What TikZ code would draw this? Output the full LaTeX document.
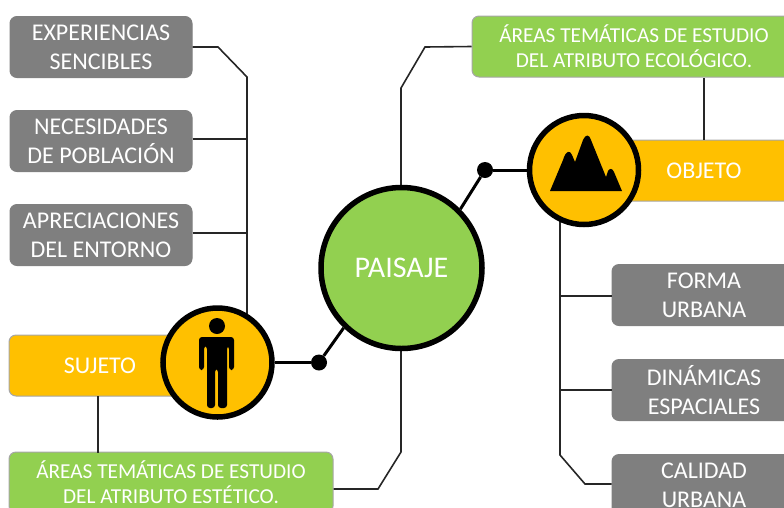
\documentclass[tikz,border=0pt]{standalone}
\usepackage{fontspec}
\setmainfont{Carlito}
\usetikzlibrary{positioning}
\definecolor{greybox}{RGB}{127, 127, 127}
\definecolor{gold}{RGB}{255, 192, 0}
\definecolor{leaf}{RGB}{146, 208, 80}
\tikzset{
  box/.style = {rectangle, rounded corners=7pt, draw=black!35, line width=1pt, text=white, align=center, font=\fontsize{24}{29}\selectfont, inner sep=0pt, minimum height=61pt},
  grey/.style = {box, draw=greybox, fill=greybox, minimum width=182pt},
  greyright/.style = {box, draw=greybox, fill=greybox, minimum width=184pt},
  greenbox/.style = {box, fill=leaf, minimum width=324pt, font=\fontsize{21.3}{25}\selectfont},
  goldbox/.style = {box, fill=gold},
  hub/.style = {circle, draw=black, line width=5.5pt, fill=gold, inner sep=0pt, minimum size=109pt},
  dot/.style = {circle, fill=black, inner sep=0pt, minimum size=16pt},
  tedge/.style = {draw=black!85, line width=1.6pt},
  hubedge/.style = {draw=black, line width=3pt},
}
\begin{document}
\begin{tikzpicture}[x=1pt, y=-1pt]
\useasboundingbox (0,0) rectangle (784,507);

% left boxes
\node[grey] (exper) at (101,47) {EXPERIENCIAS\\SENCIBLES};
\node[grey, below=32pt of exper] (neces) {NECESIDADES\\DE POBLACIÓN};
\node[grey, below=32pt of neces] (aprec) {APRECIACIONES\\DEL ENTORNO};
\node[goldbox, minimum width=182pt] (sujeto) at (100,365.5) {SUJETO};
\node[greenbox] (estet) at (171,482.5) {ÁREAS TEMÁTICAS DE ESTUDIO\\DEL ATRIBUTO ESTÉTICO.};

% right boxes
\node[greenbox] (ecolo) at (634,46.5) {ÁREAS TEMÁTICAS DE ESTUDIO\\DEL ATRIBUTO ECOLÓGICO.};
\node[goldbox, minimum width=184pt] (objeto) at (704,170.5) {OBJETO};
\node[greyright] (forma) at (704,295) {FORMA\\URBANA};
\node[greyright, below=33pt of forma] (dinam) {DINÁMICAS\\ESPACIALES};
\node[greyright, below=33pt of dinam] (calid) {CALIDAD\\URBANA};

% corners of the connectors
\coordinate (trunkL) at (247,77);
\coordinate (trunkR) at (560,455);

%edges
\path[tedge] (exper.east |- 0,47) -- (218,47) -- (trunkL) -- (247,320);
\path[tedge] (neces.east |- 0,139) -- (trunkL |- 0,139);
\path[tedge] (aprec.east |- 0,233) -- (trunkL |- 0,233);
\path[tedge] (98,396) -- (98,453);
\path[tedge] (704,78) -- (704,140);
\path[tedge] (estet.east |- 0,489) -- (378,489) -- (401,452) -- (401,340);
\path[tedge] (ecolo.west) -- (425,47) -- (401,88) -- (401,200);
\path[tedge] (560,215) -- (trunkR) -- (585,484) -- (calid.west |- 0,484);
\path[tedge] (forma.west |- 0,296) -- (560,296);
\path[tedge] (dinam.west |- 0,390) -- (560,390);

% circles
\node[dot] (dotL) at (319,362.5) {};
\node[dot] (dotR) at (485,170) {};
\node[hub] (person) at (217.5,362.5) {};
\node[hub] (peak) at (584,170) {};
\node[circle, draw=black, line width=5.5pt, fill=leaf, inner sep=0pt, minimum size=161pt, text=white, font=\fontsize{30}{33}\selectfont] (paisaje) at (401.5,268) {PAISAJE};

%edges of the circles
\path[hubedge] (person) -- (dotL);
\path[hubedge] (dotL) -- (paisaje.226);
\path[hubedge] (paisaje.45) -- (dotR);
\path[hubedge] (dotR) -- (peak);

% person icon
\fill (217,326) circle (8);
\fill[rounded corners=3pt] (199,370) -- (199,337) -- (234,337) -- (234,370) -- (229,370) -- (229,346) -- (227,346) -- (227,408) -- (218,408) -- (218,369) -- (215,369) -- (215,408) -- (207,408) -- (207,346) -- (204,346) -- (204,370) -- cycle;

% mountain icon
\fill (550,191) -- (563,160) .. controls (566,150) and (570,150) .. (572,155) -- (575,162) -- (583,140) .. controls (586,134) and (589,134) .. (591,140) -- (606,177) -- (608,171) .. controls (610,168) and (612,168) .. (614,172) -- (622,191) -- cycle;

\end{tikzpicture}
\end{document}
